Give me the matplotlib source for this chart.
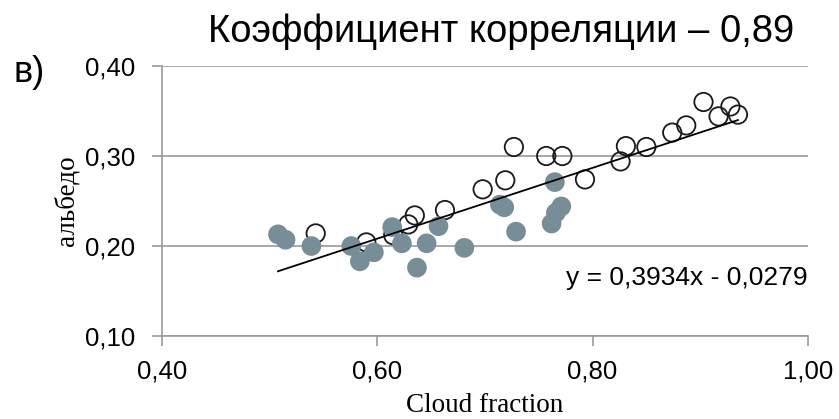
import matplotlib.pyplot as plt
import numpy as np

# cloud fraction / albedo, filled (grey) points
x_filled = [0.508, 0.515, 0.539, 0.576, 0.584, 0.597, 0.614, 0.623, 0.637, 0.646,
            0.657, 0.681, 0.714, 0.718, 0.729, 0.762, 0.765, 0.766, 0.771]
y_filled = [0.213, 0.207, 0.200, 0.200, 0.183, 0.193, 0.221, 0.203, 0.176, 0.203,
            0.222, 0.198, 0.246, 0.243, 0.216, 0.225, 0.271, 0.237, 0.244]

# open (hollow) points
x_open = [0.543, 0.590, 0.615, 0.629, 0.635, 0.663, 0.698, 0.719, 0.727, 0.757,
          0.772, 0.793, 0.826, 0.831, 0.850, 0.874, 0.887, 0.903, 0.917, 0.928, 0.935]
y_open = [0.214, 0.204, 0.212, 0.224, 0.234, 0.240, 0.263, 0.273, 0.310, 0.300,
          0.300, 0.274, 0.294, 0.311, 0.310, 0.326, 0.334, 0.360, 0.344, 0.355, 0.346]

# linear trend y = a*x + b
slope = 0.3934
intercept = -0.0279

x_ticks = [0.40, 0.60, 0.80, 1.00]
y_ticks = [0.10, 0.20, 0.30, 0.40]

sans = "Liberation Sans"
serif = "Liberation Serif"
grid_color = "#999999"

fig = plt.figure(figsize=(8.39, 4.19), dpi=100)
ax = fig.add_axes([0.1927, 0.198, 0.7703, 0.6445])

ax.scatter(x_open, y_open, s=175, facecolors="none", edgecolors="#1a1a1a",
           linewidths=1.3, zorder=2)
ax.scatter(x_filled, y_filled, s=200, color="#778E99", edgecolors="none", zorder=3)

all_x = np.array(x_filled + x_open)
xs = np.array([all_x.min(), all_x.max()])
ax.plot(xs, slope * xs + intercept, color="black", lw=1.3, zorder=4)

ax.set_xlim(0.40, 1.00)
ax.set_ylim(0.10, 0.40)
ax.set_xticks(x_ticks)
ax.set_yticks(y_ticks)
ax.set_xticklabels([f"{v:.2f}".replace(".", ",") for v in x_ticks], fontsize=18.5, family=sans)
ax.set_yticklabels([f"{v:.2f}".replace(".", ",") for v in y_ticks], fontsize=18.5, family=sans)
ax.tick_params(direction="out", length=7, width=1.2, color=grid_color)
ax.tick_params(axis="x", pad=10)
ax.tick_params(axis="y", pad=12)

ax.yaxis.grid(True, color=grid_color, lw=1.2)
ax.set_axisbelow(True)
for side in ["top", "right"]:
    ax.spines[side].set_visible(False)
for side in ["left", "bottom"]:
    ax.spines[side].set_color(grid_color)
    ax.spines[side].set_linewidth(1.2)

ax.set_xlabel("Cloud fraction", fontsize=19.5, family=serif, va="baseline")
ax.xaxis.set_label_coords(0.5, -0.282)
ax.set_ylabel("альбедо", fontsize=19.5, family=serif, va="center")
ax.yaxis.set_label_coords(-0.147, 0.5)

ax.text(1.0, 0.157, "y = 0,3934x - 0,0279", fontsize=19, family=sans,
        ha="right", va="baseline")

fig.text(0.597, 0.925, "Коэффициент корреляции – 0,89", fontsize=27.5, family=sans,
         ha="center", va="center")
fig.text(0.0155, 0.828, "в)", fontsize=26, family=sans, ha="left", va="center")

fig.savefig("out.png", dpi=100)
